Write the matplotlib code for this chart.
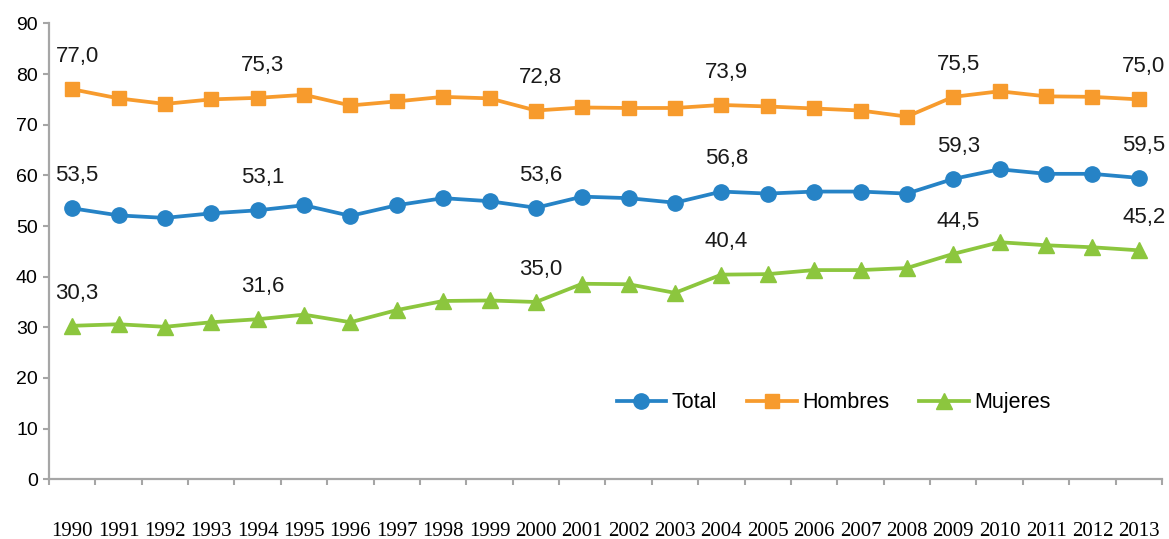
import numpy as np
import matplotlib
matplotlib.use('Agg')
import matplotlib.pyplot as plt

years = [str(y) for y in range(1990, 2014)]

total = [53.5, 52.1, 51.6, 52.5, 53.1, 54.1, 52.0, 54.1, 55.5, 54.9, 53.6, 55.8,
         55.5, 54.6, 56.8, 56.4, 56.8, 56.8, 56.4, 59.3, 61.2, 60.3, 60.3, 59.5]
hombres = [77.0, 75.2, 74.1, 75.0, 75.3, 75.9, 73.8, 74.6, 75.5, 75.2, 72.8, 73.4,
           73.3, 73.3, 73.9, 73.6, 73.2, 72.8, 71.6, 75.5, 76.6, 75.6, 75.5, 75.0]
mujeres = [30.3, 30.6, 30.1, 31.0, 31.6, 32.5, 31.0, 33.4, 35.2, 35.3, 35.0, 38.6,
           38.5, 36.8, 40.4, 40.5, 41.3, 41.3, 41.7, 44.5, 46.8, 46.2, 45.8, 45.2]

# years that carry a value label
labelled = [0, 4, 10, 14, 19, 23]

series = [
  ('Total', total, '#2683C6', 'o', 11),
  ('Hombres', hombres, '#F79B2D', 's', 10),
  ('Mujeres', mujeres, '#8CC63E', '^', 11.5),
]

plt.rcParams['font.family'] = ['Liberation Sans', 'DejaVu Sans']

fig = plt.figure(figsize=(11.69, 5.39), dpi=100)
ax = fig.add_axes([0.0419, 0.1108, 0.9521, 0.8458])

x = np.arange(len(years))
for name, vals, color, marker, ms in series:
  ax.plot(x, vals, color=color, lw=2.7, marker=marker, markersize=ms,
          label=name, solid_joinstyle='round')
  for i in labelled:
    # decimal comma, as in the source
    txt = ('%.1f' % vals[i]).replace('.', ',')
    ax.annotate(txt, (x[i], vals[i]), xytext=(3.5, 23.5),
                textcoords='offset points', ha='center', va='center',
                fontsize=16, color='#1a1a1a')

ax.set_xlim(-0.5, len(years) - 0.5)
ax.set_ylim(0, 90)
ax.set_yticks(range(0, 91, 10))
ax.set_xticks(x)
ax.set_xticklabels(years, family='Liberation Serif', fontsize=15)
ax.set_xticks(np.arange(-0.5, len(years), 1), minor=True)

for side in ['top', 'right']:
  ax.spines[side].set_visible(False)
for side in ['left', 'bottom']:
  ax.spines[side].set_color('#A6A6A6')
  ax.spines[side].set_linewidth(1.6)

ax.tick_params(axis='x', which='major', length=0, pad=31)
ax.tick_params(axis='x', which='minor', length=4, width=1.5, color='#A6A6A6')
ax.tick_params(axis='y', length=4, width=1.5, color='#A6A6A6', labelsize=14,
               pad=4)

ax.legend(loc='center', bbox_to_anchor=(0.705, 0.168), ncol=3, frameon=False,
          fontsize=15.5, handlelength=2.3, handletextpad=0.25, columnspacing=1.4)

plt.savefig('out.png', dpi=100)
